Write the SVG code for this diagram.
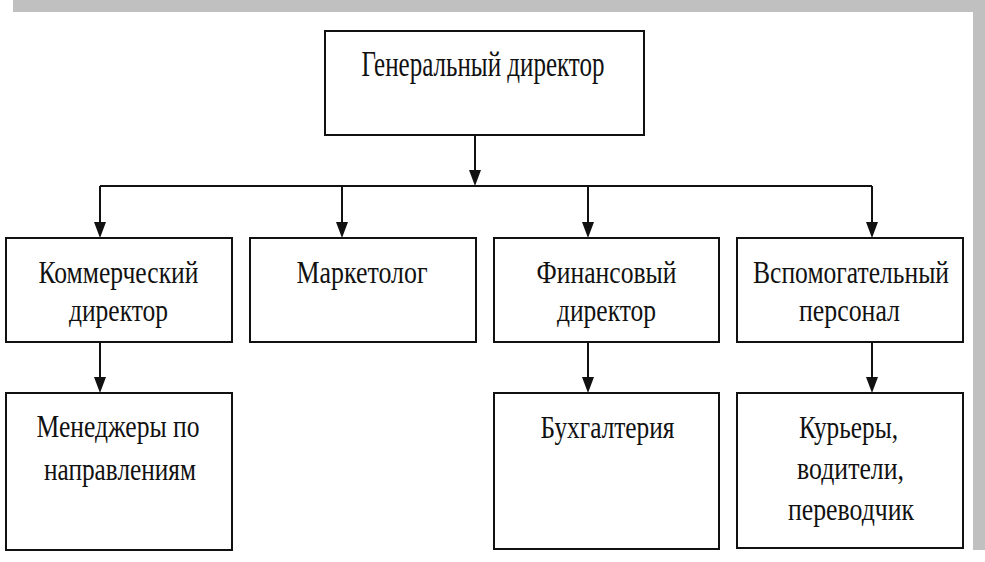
<svg xmlns="http://www.w3.org/2000/svg" width="985" height="562" viewBox="0 0 985 562">
<style>
.box{fill:#fff;stroke:#111;stroke-width:2}
.t{font-family:"Liberation Serif","DejaVu Serif",serif;font-size:24px;fill:#111;text-anchor:middle}
.big{font-size:26px}
.c{stroke:#111;stroke-width:2;fill:none}
.frame{fill:#c0c0c0}
.ah{fill:#111}
</style>
<rect width="985" height="562" fill="#fff"/>
<rect class="frame" x="13" y="0" width="972" height="12"/>
<rect class="frame" x="973" y="0" width="12" height="550"/>
<g id="connectors">
<line class="c" x1="475" y1="135" x2="475" y2="172"/>
<path class="ah" d="M475,170 l-6,0 l6,16 l6,-16 z"/>
<line class="c" x1="100" y1="186" x2="872" y2="186"/>
<line class="c" x1="100" y1="186" x2="100" y2="224"/>
<line class="c" x1="342" y1="186" x2="342" y2="224"/>
<line class="c" x1="588" y1="186" x2="588" y2="224"/>
<line class="c" x1="872" y1="186" x2="872" y2="224"/>
<path class="ah" d="M100,222 l-6,0 l6,16 l6,-16 z M342,222 l-6,0 l6,16 l6,-16 z M588,222 l-6,0 l6,16 l6,-16 z M872,222 l-6,0 l6,16 l6,-16 z"/>
<line class="c" x1="100" y1="342" x2="100" y2="379"/>
<line class="c" x1="588" y1="342" x2="588" y2="379"/>
<line class="c" x1="872" y1="342" x2="872" y2="379"/>
<path class="ah" d="M100,377 l-6,0 l6,16 l6,-16 z M588,377 l-6,0 l6,16 l6,-16 z M872,377 l-6,0 l6,16 l6,-16 z"/>
</g>
<g id="gen">
<rect class="box" x="325" y="31" width="319" height="104"/>
<text class="t big" transform="translate(483 76) scale(1 1.35)" textLength="243" lengthAdjust="spacingAndGlyphs">Генеральный директор</text>
</g>
<g id="kom">
<rect class="box" x="6" y="238" width="226" height="104"/>
<text class="t" transform="translate(118.5 283) scale(1 1.3)" textLength="160" lengthAdjust="spacingAndGlyphs">Коммерческий</text>
<text class="t" transform="translate(118.5 321) scale(1 1.3)" textLength="99" lengthAdjust="spacingAndGlyphs">директор</text>
</g>
<g id="mark">
<rect class="box" x="250" y="238" width="226" height="104"/>
<text class="t" transform="translate(362 283) scale(1 1.3)" textLength="131" lengthAdjust="spacingAndGlyphs">Маркетолог</text>
</g>
<g id="fin">
<rect class="box" x="494" y="238" width="225" height="104"/>
<text class="t" transform="translate(606.5 283) scale(1 1.3)" textLength="140" lengthAdjust="spacingAndGlyphs">Финансовый</text>
<text class="t" transform="translate(606.5 321) scale(1 1.3)" textLength="99" lengthAdjust="spacingAndGlyphs">директор</text>
</g>
<g id="vsp">
<rect class="box" x="737" y="238" width="226" height="104"/>
<text class="t" transform="translate(851 283) scale(1 1.3)" textLength="196" lengthAdjust="spacingAndGlyphs">Вспомогательный</text>
<text class="t" transform="translate(849.5 321) scale(1 1.3)" textLength="101" lengthAdjust="spacingAndGlyphs">персонал</text>
</g>
<g id="men">
<rect class="box" x="6" y="393" width="226" height="157"/>
<text class="t" transform="translate(118 437) scale(1 1.3)" textLength="163" lengthAdjust="spacingAndGlyphs">Менеджеры по</text>
<text class="t" transform="translate(120 480) scale(1 1.3)" textLength="152" lengthAdjust="spacingAndGlyphs">направлениям</text>
</g>
<g id="buh">
<rect class="box" x="494" y="393" width="225" height="156"/>
<text class="t" transform="translate(607.5 438) scale(1 1.3)" textLength="134" lengthAdjust="spacingAndGlyphs">Бухгалтерия</text>
</g>
<g id="kur">
<rect class="box" x="737" y="393" width="226" height="155"/>
<text class="t" transform="translate(848.5 438) scale(1 1.3)" textLength="99" lengthAdjust="spacingAndGlyphs">Курьеры,</text>
<text class="t" transform="translate(850.5 479) scale(1 1.3)" textLength="107" lengthAdjust="spacingAndGlyphs">водители,</text>
<text class="t" transform="translate(851 520) scale(1 1.3)" textLength="126" lengthAdjust="spacingAndGlyphs">переводчик</text>
</g>
</svg>
